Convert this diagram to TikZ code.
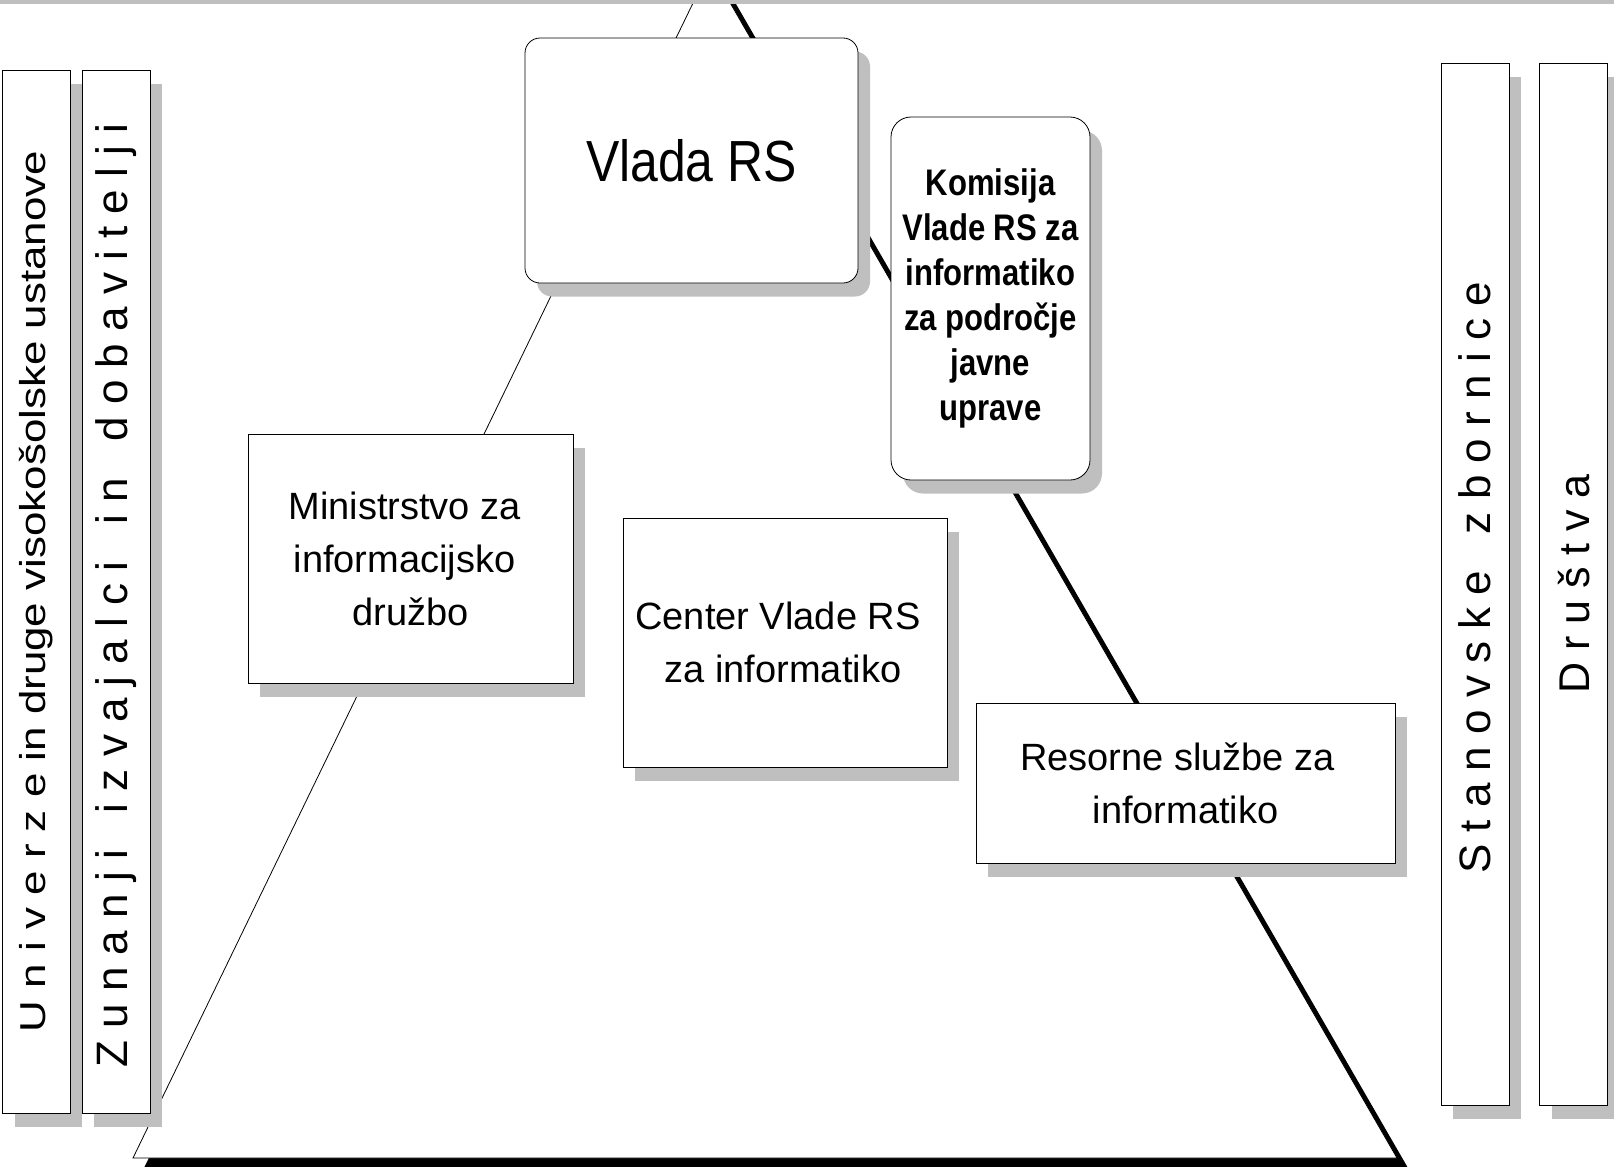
\documentclass[tikz,border=0pt]{standalone}
\usepackage{fontspec}
\usepackage{graphicx}
\setmainfont{Liberation Sans}
\newfontfamily\ozka[FakeStretch=0.84]{Liberation Sans}
\newfontfamily\ozkavlada[FakeStretch=0.86]{Liberation Sans}
\newfontfamily\siroka[FakeStretch=1.22]{Liberation Sans}
\usetikzlibrary{positioning,shadows}
\tikzset{
    %Define style for boxes
    okvir/.style={
           rectangle,
           draw=black, line width=0.8pt,
           fill=white,
           inner sep=0pt,
           align=center,
           drop shadow={shadow xshift=12pt, shadow yshift=-13.5pt,
                        fill=black!25, opacity=1},
           font=\fontsize{38}{53}\selectfont},
    zaobljen/.style={
           okvir,
           rounded corners=15pt},
    stolpec/.style={
           okvir,
           minimum width=68pt,
           minimum height=1043pt},
    % Define style for vertical text
    navpicno/.style={
           rotate=90,
           inner sep=0pt}
}
\begin{document}
\begin{tikzpicture}[x=1pt,y=-1pt]
\useasboundingbox (0,0) rectangle (1614,1167);
\clip (0,0) rectangle (1614,1167);
\fill[white] (0,0) rectangle (1614,1167);

 %triangle
\coordinate (vrh) at (710,-32);
\coordinate (levo) at (133,1158);
\coordinate (desno) at (1397,1158);
\fill[black] ([shift={(11,10)}]vrh) -- ([shift={(11,10)}]levo)
    -- ([shift={(11,10)}]desno) -- cycle;
\filldraw[fill=white, draw=black, line width=0.8pt] (vrh) -- (levo) -- (desno) -- cycle;
\fill[black!25] (0,0) rectangle (1614,3.5);

 %nodes
\node[zaobljen, minimum width=333pt, minimum height=245pt,
      font=\ozkavlada\fontsize{58}{70}\selectfont] (vlada) at (691.5,160.5) {Vlada RS};
\node[zaobljen, rounded corners=20pt, minimum width=199pt, minimum height=363pt,
      font=\ozka\bfseries\fontsize{37}{45}\selectfont] (komisija) at (990.5,298.5)
      {Komisija\\Vlade RS za\\informatiko\\za področje\\javne\\uprave};
\node[okvir, minimum width=325pt, minimum height=249pt] (ministrstvo) at (410.5,558.5)
      {Ministrstvo za\kern12pt\\informacijsko\kern12pt\\družbo};
\node[okvir, minimum width=324pt, minimum height=249pt] (cvi) at (785,642.5)
      {Center Vlade RS\kern14pt\\za informatiko\kern4pt};
\node[okvir, minimum width=419pt, minimum height=160pt] (resorne) at (1185.5,783)
      {Resorne službe za\kern16pt\\informatiko};

 %bars
\node[stolpec, minimum width=67.6pt] (univerze) at (36.5,591.5) {};
\node[stolpec, right=11pt of univerze] (zunanji) {};
\node[stolpec, minimum height=1042pt] (zbornice) at (1475,584) {};
\node[stolpec, minimum height=1042pt, right=30pt of zbornice] (drustva) {};

\node[navpicno, font=\siroka\fontsize{36}{40}\selectfont] (tuniverze) at (univerze)
      {U n i v e r z e in druge visokošolske ustanove};
\node[navpicno, font=\fontsize{44}{48}\selectfont] (tzunanji) at ([yshift=-4pt]zunanji.center)
      {Z u n a n j i\ \ \ i z v a j a l c i\ \ \ i n\ \ \ d o b a v i t e l j i};
\node[navpicno, font=\fontsize{44}{48}\selectfont] (tzbornice) at ([yshift=6pt]zbornice.center)
      {S t a n o v s k e\ \ \ z b o r n i c e};
\node[navpicno, font=\fontsize{43}{48}\selectfont] (tdrustva) at (drustva)
      {D r u š t v a};
\end{tikzpicture}
\end{document}
